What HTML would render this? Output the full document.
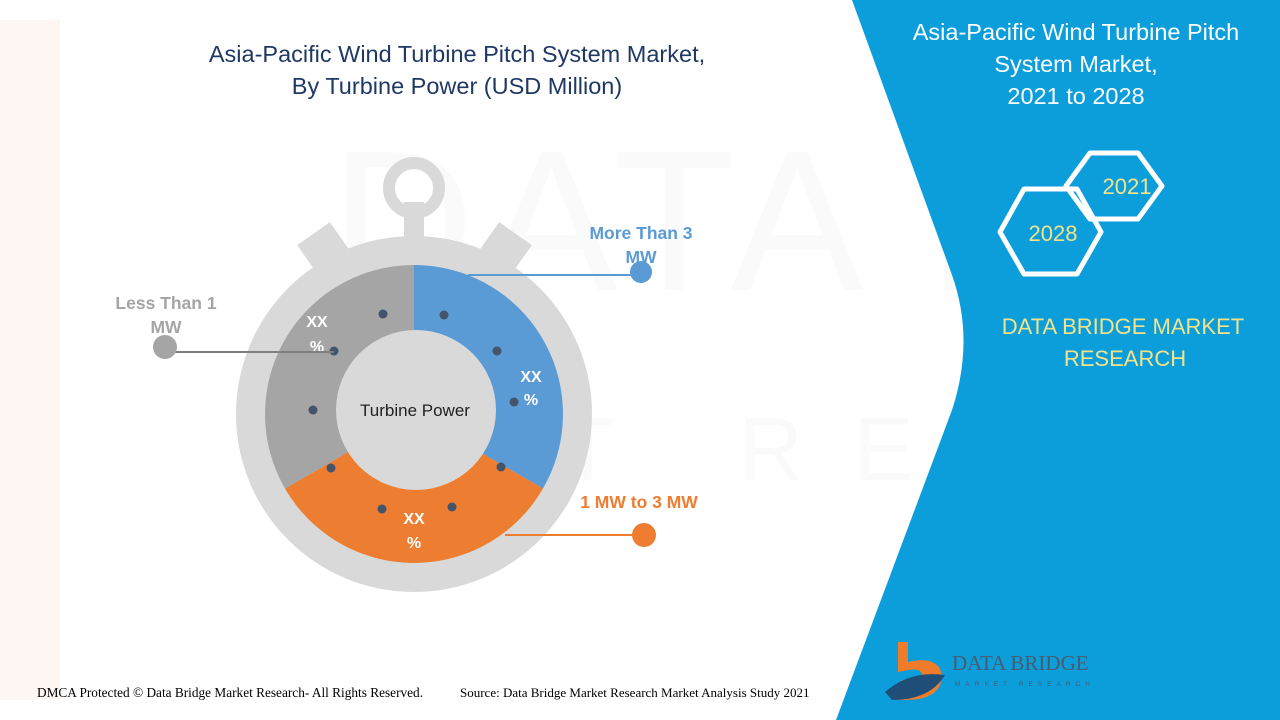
<!DOCTYPE html>
<html><head><meta charset="utf-8"><style>
html,body{margin:0;padding:0;width:1280px;height:720px;overflow:hidden;background:#fff;font-family:"Liberation Sans",sans-serif}
</style></head><body>
<svg width="1280" height="720" viewBox="0 0 1280 720" xmlns="http://www.w3.org/2000/svg" style="position:absolute;left:0;top:0">
<g opacity="0.035" fill="#888">
<text x="330" y="290" font-size="200" font-family="Liberation Sans" letter-spacing="10">DATA BRIDGE</text>
<text x="560" y="480" font-size="90" font-family="Liberation Sans" letter-spacing="50">T RESEARCH</text>
</g>
<path d="M0,20 L60,20 L60,700 L0,700 Z" fill="#fbeee6" opacity="0.5"/>
<path d="M852,0 L1280,0 L1280,720 L836,720 L952,410 Q975,340 952,275 Z" fill="#0b9edb"/>
<text x="457" y="62" text-anchor="middle" font-size="23.5" fill="#1f3864">Asia-Pacific Wind Turbine Pitch System Market,</text>
<text x="457" y="94" text-anchor="middle" font-size="23.5" fill="#1f3864">By Turbine Power (USD Million)</text>
<circle cx="414" cy="188" r="25" fill="none" stroke="#d9d9d9" stroke-width="12"/>
<rect x="404" y="202" width="20" height="40" fill="#d9d9d9"/>
<rect x="305" y="230" width="40" height="40" fill="#d9d9d9" transform="rotate(-35 325 250)"/>
<rect x="484" y="230" width="40" height="40" fill="#d9d9d9" transform="rotate(35 504 250)"/>
<circle cx="414" cy="414" r="178" fill="#d9d9d9"/>
<path d="M414,414 L414,265 A149,149 0 0 1 543,488.5 Z" fill="#5b9bd5"/>
<path d="M414,414 L543,488.5 A149,149 0 0 1 285,488.5 Z" fill="#ed7d31"/>
<path d="M414,414 L285,488.5 A149,149 0 0 1 414,265 Z" fill="#a5a5a5"/>
<circle cx="416" cy="410" r="80" fill="#d9d9d9"/>
<text x="415" y="416" text-anchor="middle" font-size="17" fill="#222">Turbine Power</text>
<g fill="#44546a">
<circle cx="383" cy="314" r="4.5"/><circle cx="444" cy="315" r="4.5"/><circle cx="497" cy="351" r="4.5"/>
<circle cx="514" cy="402" r="4.5"/><circle cx="501" cy="467" r="4.5"/><circle cx="452" cy="507" r="4.5"/>
<circle cx="382" cy="509" r="4.5"/><circle cx="331" cy="468" r="4.5"/><circle cx="313" cy="410" r="4.5"/>
<circle cx="334" cy="351" r="4.5"/>
</g>
<g fill="#fff" font-weight="bold" font-size="16" text-anchor="middle">
<text x="317" y="327">XX</text><text x="317" y="352">%</text>
<text x="531" y="382">XX</text><text x="531" y="405">%</text>
<text x="414" y="524">XX</text><text x="414" y="548">%</text>
</g>
<line x1="468" y1="275" x2="640" y2="275" stroke="#5b9bd5" stroke-width="2"/>
<circle cx="641" cy="272" r="11" fill="#5b9bd5"/>
<text x="641" y="239" text-anchor="middle" font-size="17.5" font-weight="bold" fill="#5b9bd5">More Than 3</text>
<text x="641" y="263" text-anchor="middle" font-size="17.5" font-weight="bold" fill="#5b9bd5">MW</text>
<line x1="160" y1="352" x2="334" y2="352" stroke="#7f7f7f" stroke-width="2"/>
<circle cx="165" cy="347" r="12" fill="#a5a5a5"/>
<text x="166" y="309" text-anchor="middle" font-size="17.5" font-weight="bold" fill="#a5a5a5">Less Than 1</text>
<text x="166" y="333" text-anchor="middle" font-size="17.5" font-weight="bold" fill="#a5a5a5">MW</text>
<line x1="505" y1="535" x2="640" y2="535" stroke="#ed7d31" stroke-width="2"/>
<circle cx="644" cy="535" r="12" fill="#ed7d31"/>
<text x="639" y="508" text-anchor="middle" font-size="17.5" font-weight="bold" fill="#ed7d31">1 MW to 3 MW</text>
<g fill="#fff" font-size="23.5" text-anchor="middle">
<text x="1076" y="40">Asia-Pacific Wind Turbine Pitch</text>
<text x="1076" y="72">System Market,</text>
<text x="1076" y="104">2021  to 2028</text>
</g>
<polygon points="1090,153 1138,153 1162,186 1138,219 1090,219 1066,186" fill="none" stroke="#fff" stroke-width="5" stroke-linejoin="round"/>
<polygon points="1024,189 1077,189 1101,232 1077,274 1024,274 1000,232" fill="none" stroke="#fff" stroke-width="5" stroke-linejoin="round"/>
<text x="1127" y="194" text-anchor="middle" font-size="22" fill="#f2e28a">2021</text>
<text x="1053" y="241" text-anchor="middle" font-size="22" fill="#f2e28a">2028</text>
<text x="1123" y="334" text-anchor="middle" font-size="22" fill="#f2e28a">DATA BRIDGE MARKET</text>
<text x="1125" y="366" text-anchor="middle" font-size="22" fill="#f2e28a">RESEARCH</text>
<path d="M898,642 L908,642 L908,662 Q940,655 942,677 Q940,700 905,700 L895,700 L902,680 L908,680 Q922,680 922,674 Q920,668 908,670 L898,672 Z" fill="#f07c2a"/>
<path d="M885,692 Q910,670 945,675 Q930,700 892,700 Z" fill="#1f4e79"/>
<text x="952" y="670" font-size="21" fill="#4a5b6e" font-family="Liberation Serif">DATA BRIDGE</text>
<text x="955" y="686" font-size="6.5" fill="#4a5b6e" letter-spacing="5">MARKET RESEARCH</text>
<text x="37" y="697" font-size="13.3" fill="#000" font-family="Liberation Serif">DMCA Protected © Data Bridge Market Research- All Rights Reserved.</text>
<text x="460" y="697" font-size="13" fill="#000" font-family="Liberation Serif">Source: Data Bridge Market Research Market Analysis Study 2021</text>
</svg>
</body></html>
